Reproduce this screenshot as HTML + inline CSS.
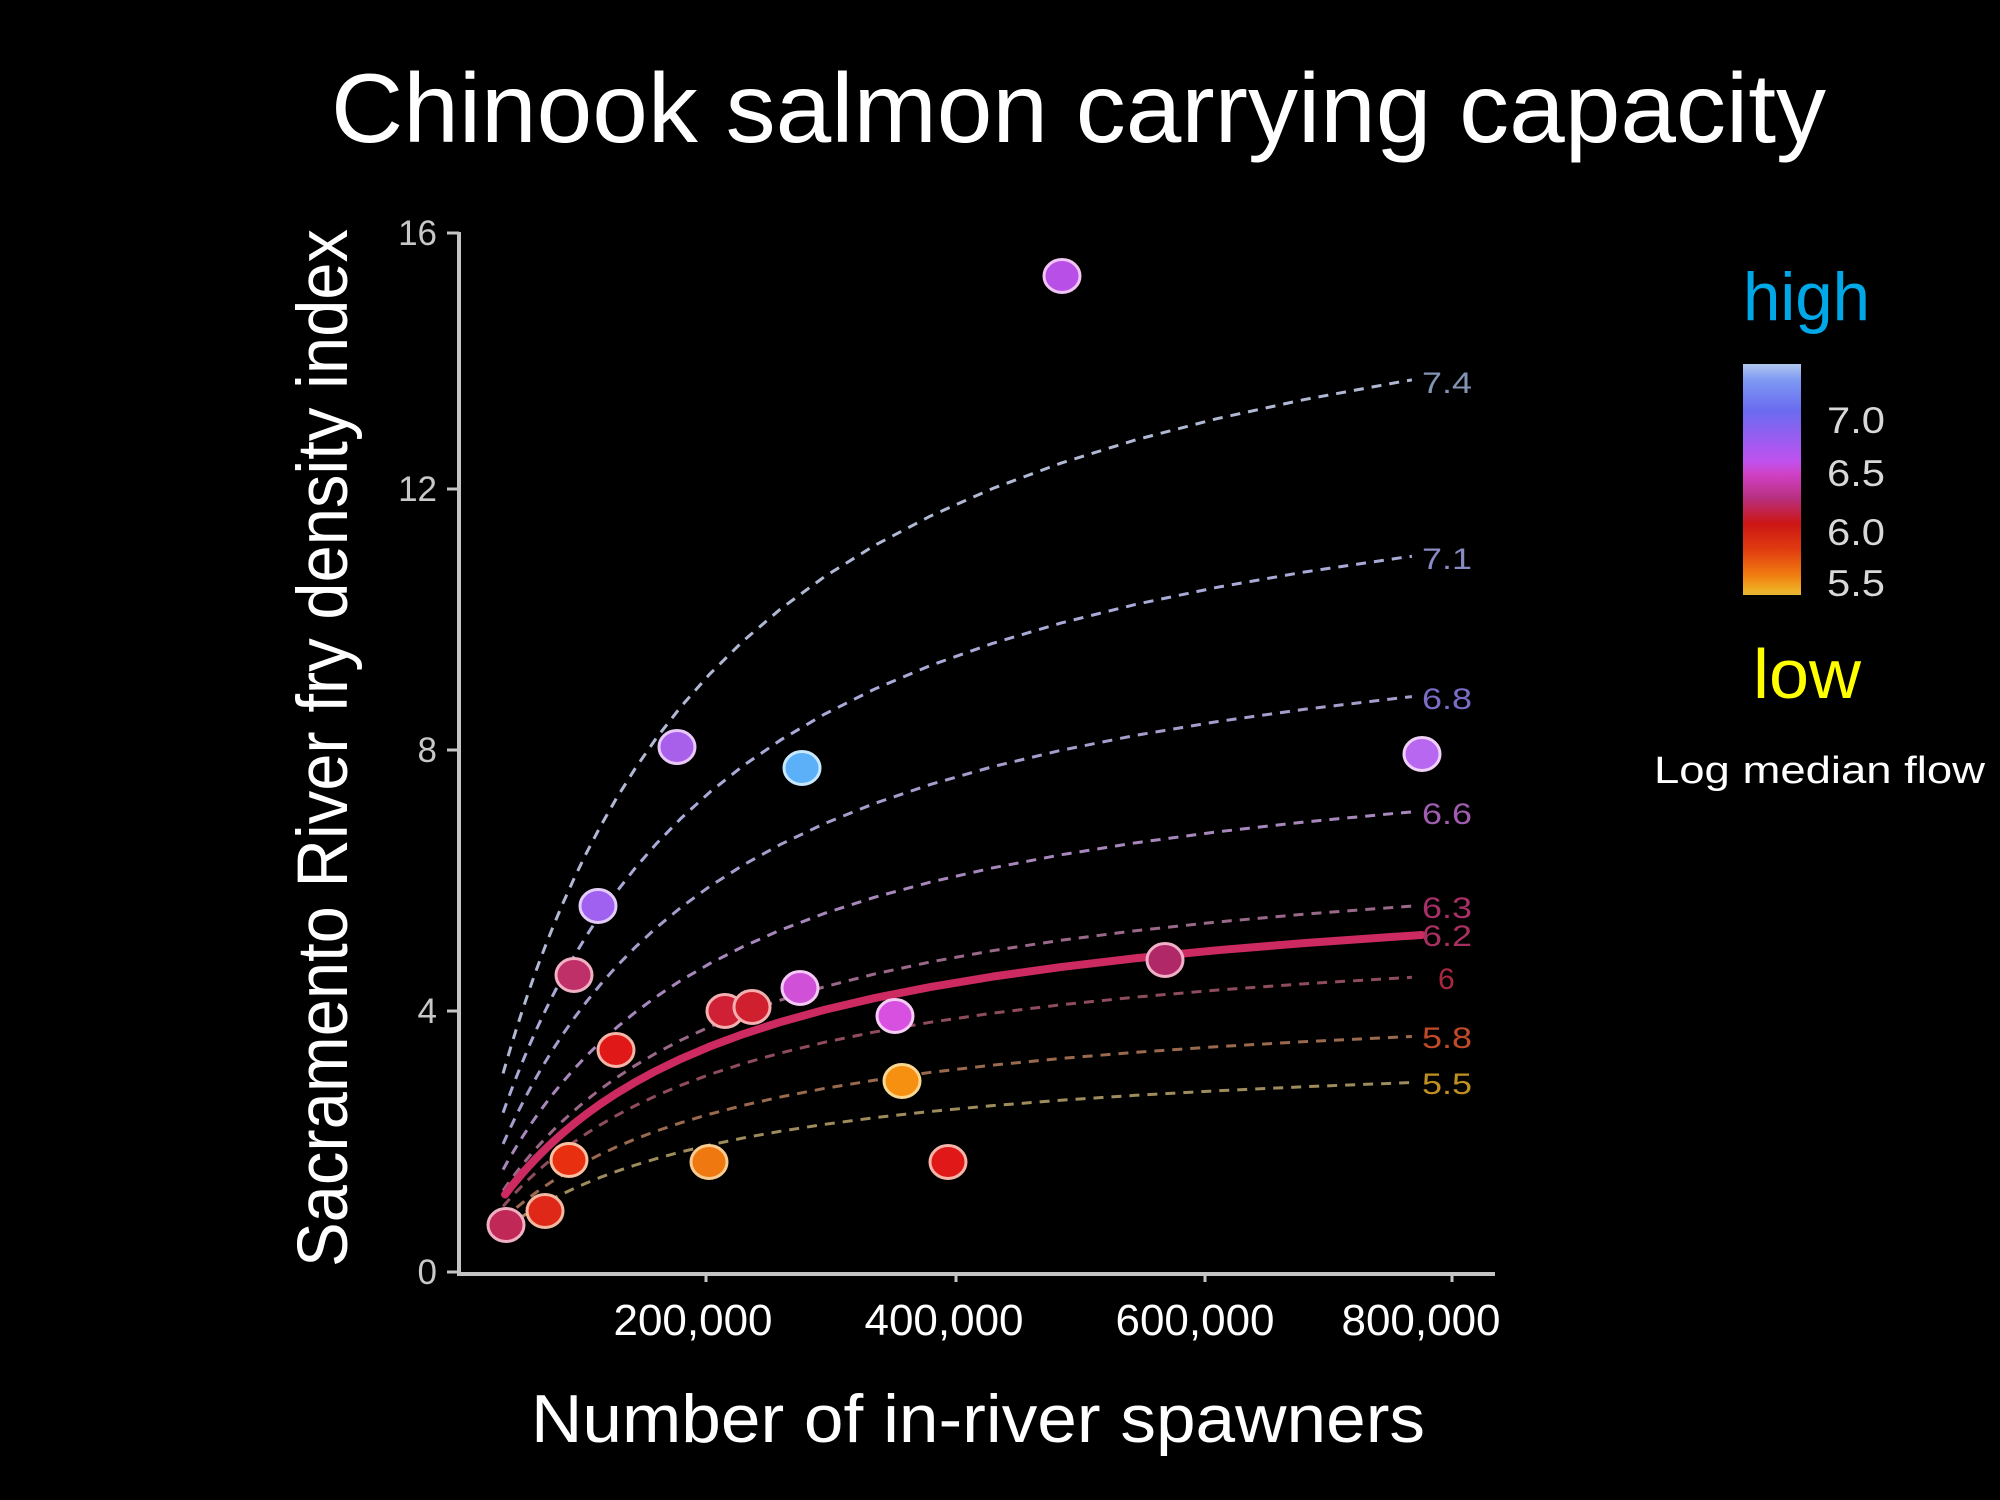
<!DOCTYPE html>
<html>
<head>
<meta charset="utf-8">
<style>
html,body{margin:0;padding:0;background:#000;}
svg{display:block;}
text{font-family:"Liberation Sans",Arial,sans-serif;}
</style>
</head>
<body>
<svg width="2000" height="1500" viewBox="0 0 2000 1500" xmlns="http://www.w3.org/2000/svg">
<defs>
<linearGradient id="cb" x1="0" y1="0" x2="0" y2="1">
<stop offset="0" stop-color="#b0c8f0"/>
<stop offset="0.07" stop-color="#7e98f2"/>
<stop offset="0.2" stop-color="#6a6cf0"/>
<stop offset="0.33" stop-color="#9c5cf0"/>
<stop offset="0.42" stop-color="#c052ee"/>
<stop offset="0.48" stop-color="#d040c4"/>
<stop offset="0.58" stop-color="#b83080"/>
<stop offset="0.69" stop-color="#cc1616"/>
<stop offset="0.8" stop-color="#e03a10"/>
<stop offset="0.91" stop-color="#f07a10"/>
<stop offset="0.97" stop-color="#f0a820"/>
<stop offset="1" stop-color="#e8b838"/>
</linearGradient>
<polyline id="bh" points="503.07,183.17 506.8,195.12 511.78,210.53 516.76,225.35 522.99,243.12 529.21,260.09 536.68,279.48 544.15,297.87 552.87,318.18 562.83,340 574.03,362.93 586.48,386.62 600.18,410.71 616.36,436.86 635.04,464.29 656.2,492.31 681.1,521.74 709.74,551.63 743.35,582.28 780.7,611.76 824.28,641.3 874.08,670 930.1,697.25 992.35,722.69 1060.83,746.15 1135.53,767.61 1216.45,787.1 1303.6,804.73 1399.47,821.04 1411.9,822.96"/>
</defs>
<rect width="2000" height="1500" fill="#000"/>

<!-- Title -->
<text x="331" y="142" font-size="98" fill="#fff" textLength="1495" lengthAdjust="spacingAndGlyphs">Chinook salmon carrying capacity</text>

<!-- Axis titles -->
<text transform="translate(347,748) rotate(-90)" text-anchor="middle" font-size="71" fill="#fff" textLength="1038" lengthAdjust="spacingAndGlyphs">Sacramento River fry density index</text>
<text x="531" y="1442" font-size="68" fill="#fff" textLength="894" lengthAdjust="spacingAndGlyphs">Number of in-river spawners</text>

<!-- Axes -->
<line x1="459" y1="232" x2="459" y2="1274" stroke="#c4c4c4" stroke-width="4"/>
<line x1="457" y1="1274" x2="1495" y2="1274" stroke="#c4c4c4" stroke-width="4"/>
<g stroke="#c4c4c4" stroke-width="3">
<line x1="447" y1="233" x2="459" y2="233"/>
<line x1="447" y1="489" x2="459" y2="489"/>
<line x1="447" y1="750" x2="459" y2="750"/>
<line x1="447" y1="1011" x2="459" y2="1011"/>
<line x1="447" y1="1272" x2="459" y2="1272"/>
<line x1="706" y1="1274" x2="706" y2="1282"/>
<line x1="956" y1="1274" x2="956" y2="1282"/>
<line x1="1205" y1="1274" x2="1205" y2="1282"/>
<line x1="1452" y1="1274" x2="1452" y2="1282"/>
</g>
<g font-size="35" fill="#c8c8c8" text-anchor="end">
<text x="437" y="245">16</text>
<text x="437" y="501">12</text>
<text x="437" y="762">8</text>
<text x="437" y="1023">4</text>
<text x="437" y="1284">0</text>
</g>
<g font-size="44" fill="#fff" text-anchor="middle">
<text x="693" y="1335" textLength="159" lengthAdjust="spacingAndGlyphs">200,000</text>
<text x="944" y="1335" textLength="159" lengthAdjust="spacingAndGlyphs">400,000</text>
<text x="1195" y="1335" textLength="159" lengthAdjust="spacingAndGlyphs">600,000</text>
<text x="1421" y="1335" textLength="159" lengthAdjust="spacingAndGlyphs">800,000</text>
</g>

<!-- Dashed curves (Beverton-Holt, scaled vertically) -->
<g fill="none" stroke-width="3" stroke-dasharray="10 8" vector-effect="non-scaling-stroke">
<use href="#bh" stroke="#b0b8d4" transform="matrix(1 0 0 -1.084 0 1272)" style="vector-effect:non-scaling-stroke"/>
<use href="#bh" stroke="#aaaad8" transform="matrix(1 0 0 -0.8697 0 1272)"/>
<use href="#bh" stroke="#a89ccc" transform="matrix(1 0 0 -0.6991 0 1272)"/>
<use href="#bh" stroke="#a888bc" transform="matrix(1 0 0 -0.5591 0 1272)"/>
<use href="#bh" stroke="#9a6888" transform="matrix(1 0 0 -0.4446 0 1272)"/>
<use href="#bh" stroke="#8e4c5c" transform="matrix(1 0 0 -0.3581 0 1272)"/>
<use href="#bh" stroke="#9a6a4e" transform="matrix(1 0 0 -0.2862 0 1272)"/>
<use href="#bh" stroke="#9e8c5c" transform="matrix(1 0 0 -0.2302 0 1272)"/>
</g>
<style>
#bh{vector-effect:non-scaling-stroke;}
</style>

<!-- Solid curve -->
<polyline fill="none" stroke="#cc2a60" stroke-width="8" stroke-linecap="round" stroke-linejoin="round" vector-effect="non-scaling-stroke" transform="matrix(1 0 0 -0.4087 0 1272)" points="505.06,189.59 506.8,195.12 511.78,210.53 516.76,225.35 522.99,243.12 529.21,260.09 536.68,279.48 544.15,297.87 552.87,318.18 562.83,340 574.03,362.93 586.48,386.62 600.18,410.71 616.36,436.86 635.04,464.29 656.2,492.31 681.1,521.74 709.74,551.63 743.35,582.28 780.7,611.76 824.28,641.3 874.08,670 930.1,697.25 992.35,722.69 1060.83,746.15 1135.53,767.61 1216.45,787.1 1303.6,804.73 1399.47,821.04 1421.88,824.47"/>

<!-- Curve labels -->
<g font-size="30">
<text x="1422" y="393" fill="#8494b4" textLength="50" lengthAdjust="spacingAndGlyphs">7.4</text>
<text x="1422" y="569" fill="#8a8ac4" textLength="50" lengthAdjust="spacingAndGlyphs">7.1</text>
<text x="1422" y="709" fill="#7c6cc4" textLength="50" lengthAdjust="spacingAndGlyphs">6.8</text>
<text x="1422" y="824" fill="#a05cb0" textLength="50" lengthAdjust="spacingAndGlyphs">6.6</text>
<text x="1422" y="918" fill="#a83068" textLength="50" lengthAdjust="spacingAndGlyphs">6.3</text>
<text x="1422" y="946" fill="#a83060" textLength="50" lengthAdjust="spacingAndGlyphs">6.2</text>
<text x="1438" y="989" fill="#a82840">6</text>
<text x="1422" y="1048" fill="#c04a28" textLength="50" lengthAdjust="spacingAndGlyphs">5.8</text>
<text x="1422" y="1094" fill="#c09020" textLength="50" lengthAdjust="spacingAndGlyphs">5.5</text>
</g>

<!-- Points -->
<g stroke-width="3">
<ellipse cx="1062" cy="276" rx="18" ry="16.5" fill="#b850e8" stroke="#f0c4f4"/>
<ellipse cx="677" cy="747" rx="18" ry="16.5" fill="#a860ea" stroke="#e8c8f8"/>
<ellipse cx="802" cy="768" rx="18" ry="16.5" fill="#5cb0f8" stroke="#c8e8ff"/>
<ellipse cx="1422" cy="754" rx="18" ry="16.5" fill="#b868f0" stroke="#f0d0f8"/>
<ellipse cx="598" cy="906" rx="18" ry="16.5" fill="#a060f0" stroke="#e4ccf8"/>
<ellipse cx="574" cy="975" rx="18" ry="16.5" fill="#c03068" stroke="#f0b0c4"/>
<ellipse cx="1165" cy="960" rx="18" ry="16.5" fill="#b02868" stroke="#f0b0c8"/>
<ellipse cx="725" cy="1011" rx="18" ry="16.5" fill="#d02035" stroke="#f4b0b0"/>
<ellipse cx="752" cy="1007" rx="18" ry="16.5" fill="#d02030" stroke="#f4b0b0"/>
<ellipse cx="800" cy="988" rx="18" ry="16.5" fill="#d050d8" stroke="#f4c8f4"/>
<ellipse cx="895" cy="1016" rx="18" ry="16.5" fill="#d850e0" stroke="#f4ccf4"/>
<ellipse cx="616" cy="1050" rx="18" ry="16.5" fill="#e01818" stroke="#f4b4a8"/>
<ellipse cx="902" cy="1081" rx="18" ry="16.5" fill="#f59010" stroke="#f8d890"/>
<ellipse cx="569" cy="1160" rx="18" ry="16.5" fill="#e83010" stroke="#f8c0a0"/>
<ellipse cx="709" cy="1162" rx="18" ry="16.5" fill="#f07810" stroke="#f8cc90"/>
<ellipse cx="948" cy="1162" rx="18" ry="16.5" fill="#e01818" stroke="#f4b4a8"/>
<ellipse cx="545" cy="1211" rx="18" ry="16.5" fill="#e02818" stroke="#f4b8a0"/>
<ellipse cx="506" cy="1225" rx="18" ry="16.5" fill="#c02858" stroke="#f0b0c4"/>
</g>

<!-- Color legend -->
<text x="1743" y="320" font-size="68" fill="#00a8e8" textLength="127" lengthAdjust="spacingAndGlyphs">high</text>
<rect x="1743" y="364" width="58" height="231" fill="url(#cb)"/>
<g font-size="37" fill="#d8d8d8">
<text x="1827" y="433" textLength="58" lengthAdjust="spacingAndGlyphs">7.0</text>
<text x="1827" y="486" textLength="58" lengthAdjust="spacingAndGlyphs">6.5</text>
<text x="1827" y="545" textLength="58" lengthAdjust="spacingAndGlyphs">6.0</text>
<text x="1827" y="596" textLength="58" lengthAdjust="spacingAndGlyphs">5.5</text>
</g>
<text x="1753" y="698" font-size="70" fill="#ffff00" textLength="108" lengthAdjust="spacingAndGlyphs">low</text>
<text x="1654" y="783" font-size="38" fill="#fff" textLength="331" lengthAdjust="spacingAndGlyphs">Log median flow</text>
</svg>
</body>
</html>
